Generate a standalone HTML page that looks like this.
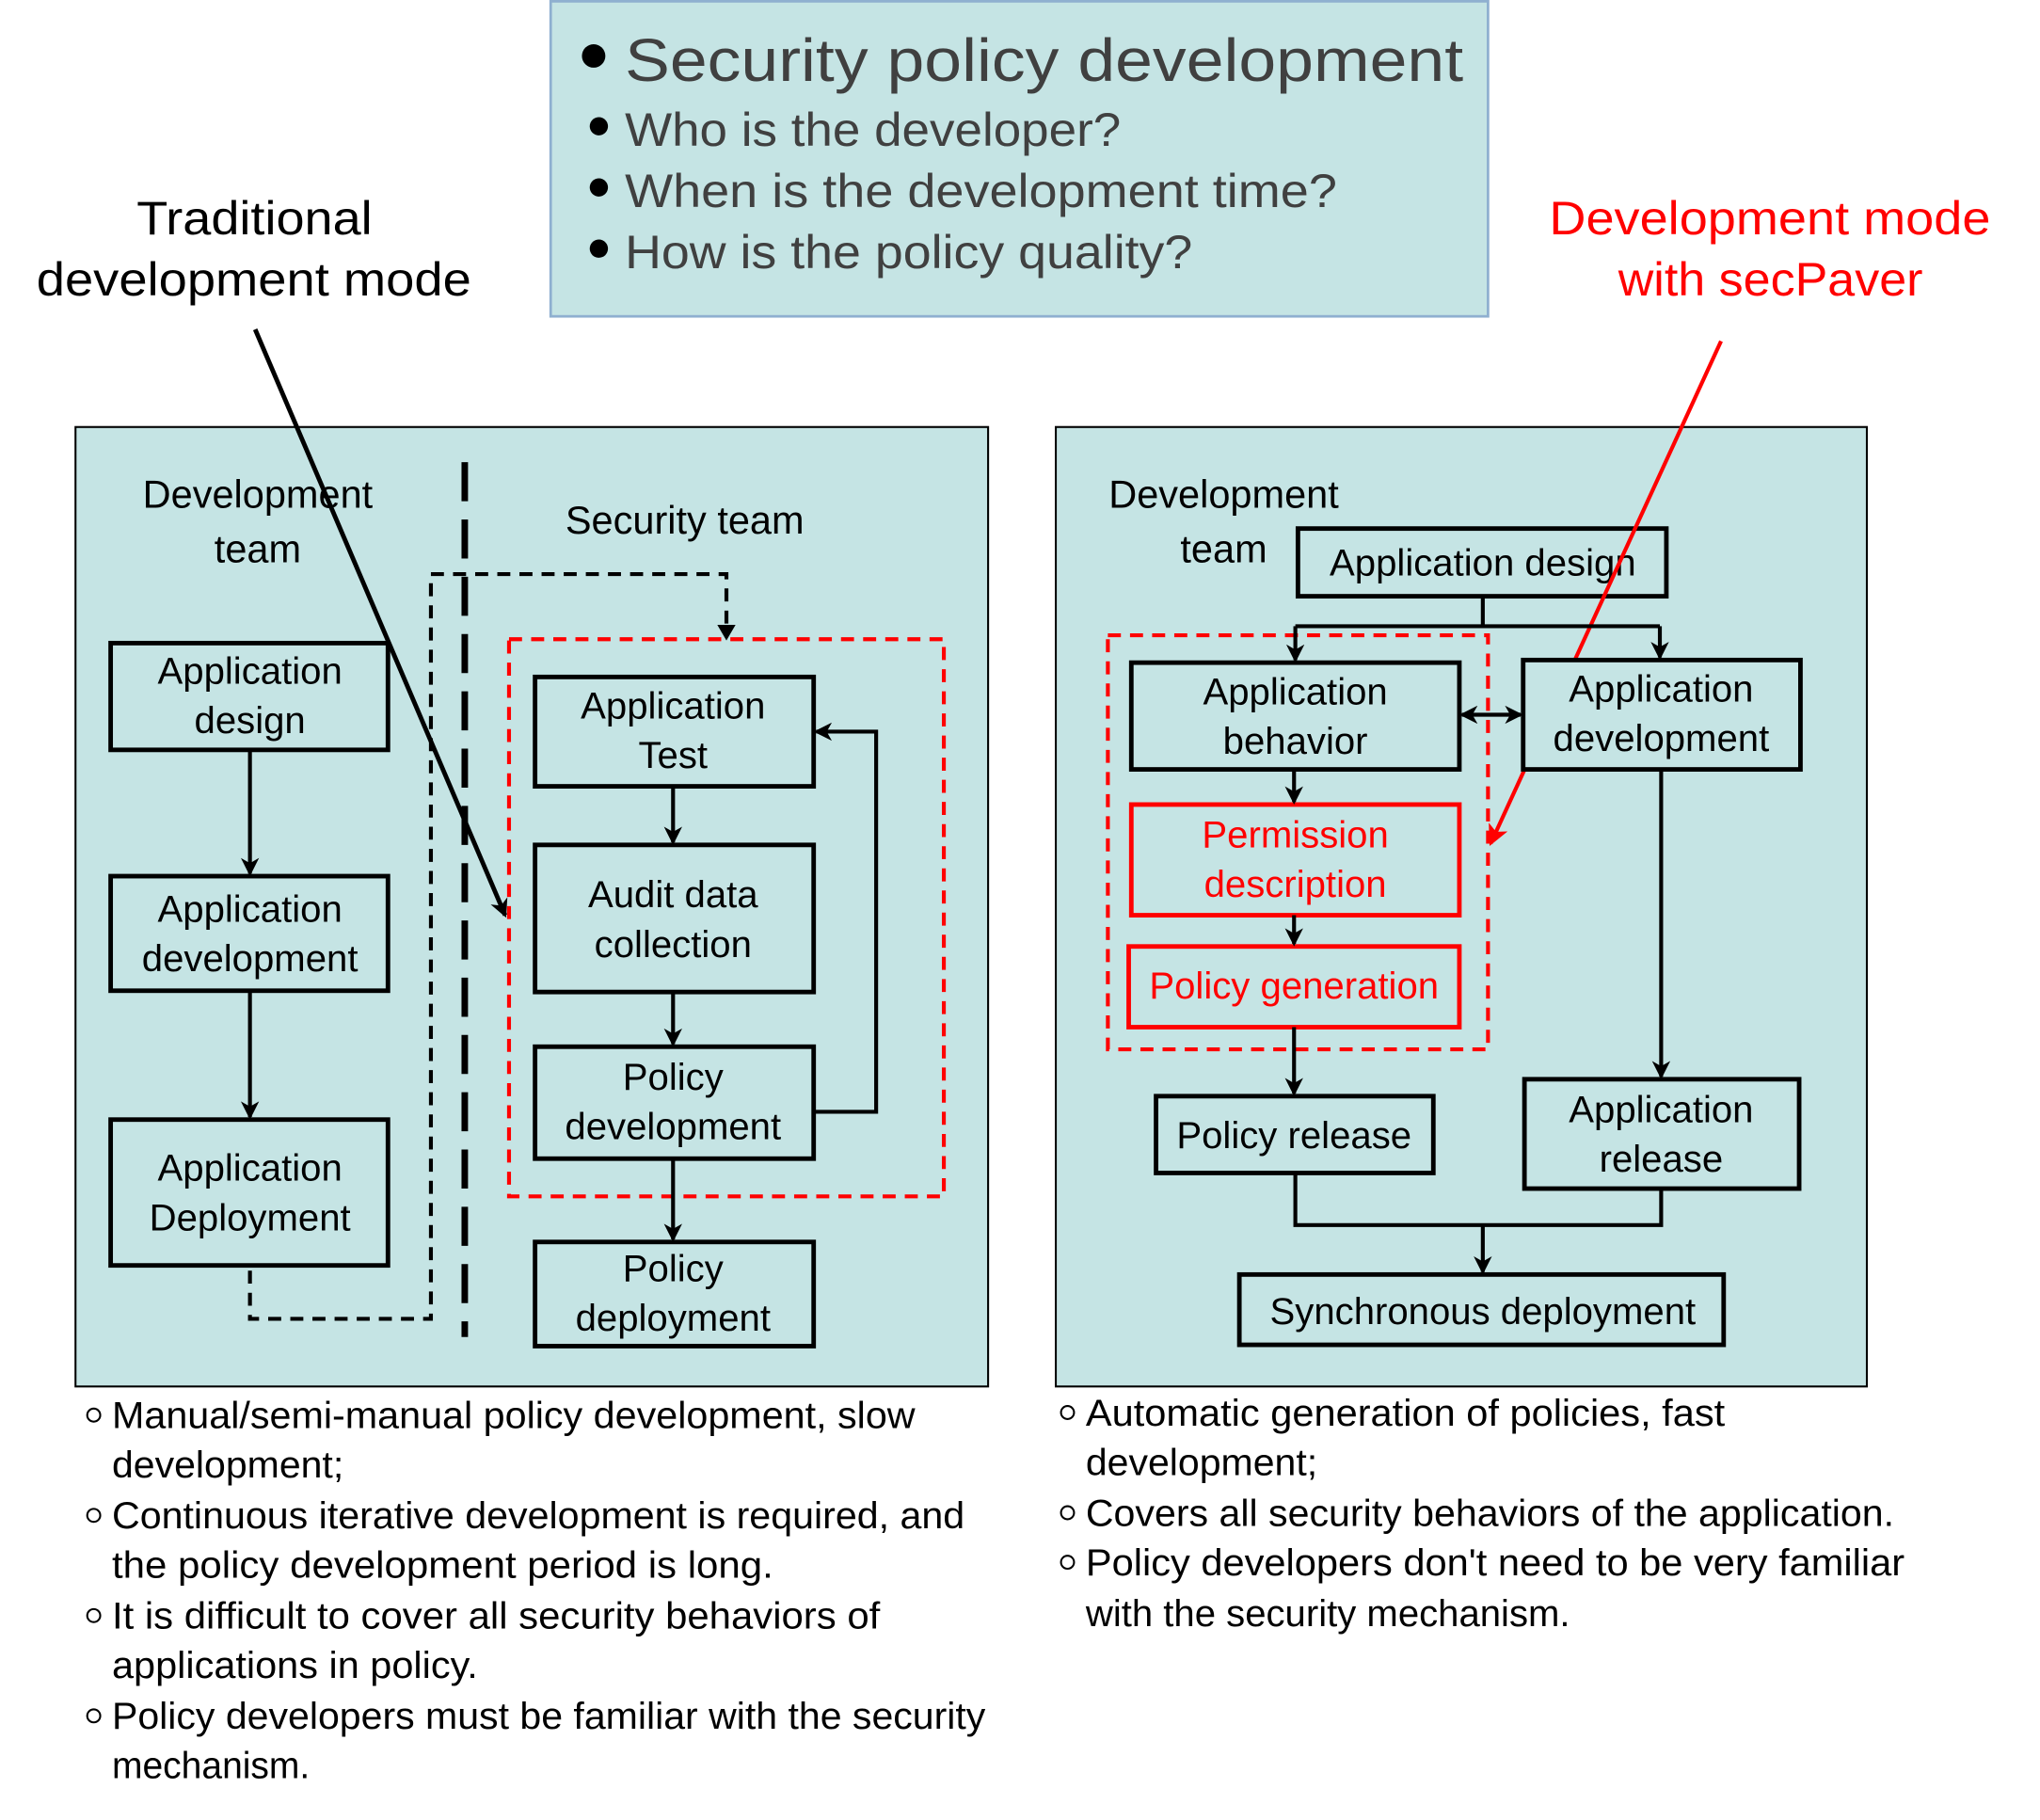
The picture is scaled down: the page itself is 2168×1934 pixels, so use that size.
<!DOCTYPE html>
<html><head><meta charset="utf-8"><style>
html,body{margin:0;padding:0;background:#fff}
svg{display:block}
text{font-family:"Liberation Sans",sans-serif}
</style></head><body>
<svg width="2168" height="1934" viewBox="0 0 1567 1398" preserveAspectRatio="none" xmlns="http://www.w3.org/2000/svg">
<defs>
<marker id="a" markerWidth="14" markerHeight="14" refX="12" refY="7" orient="auto" markerUnits="userSpaceOnUse"><path d="M0,0 L14,7 L0,14 L4,7 Z" fill="#000"/></marker>
<marker id="ar" markerWidth="16" markerHeight="16" refX="14" refY="8" orient="auto" markerUnits="userSpaceOnUse"><path d="M0,0 L16,8 L0,16 L4,8 Z" fill="#f00"/></marker>
<marker id="as" markerWidth="14" markerHeight="14" refX="2" refY="7" orient="auto" markerUnits="userSpaceOnUse"><path d="M14,0 L0,7 L14,14 L10,7 Z" fill="#000"/></marker>
</defs>
<rect x="423" y="1" width="720" height="242" fill="#c5e4e4" stroke="#8fb0d0" stroke-width="2"/>
<g fill="#404040">
<circle cx="456" cy="43" r="9" fill="#000"/>
<text x="480" y="62" font-size="46" textLength="644" lengthAdjust="spacingAndGlyphs">Security policy development</text>
<circle cx="460" cy="97" r="7" fill="#000"/><text x="480" y="112" font-size="36" textLength="381" lengthAdjust="spacingAndGlyphs">Who is the developer?</text>
<circle cx="460" cy="144" r="7" fill="#000"/><text x="480" y="159" font-size="36" textLength="547" lengthAdjust="spacingAndGlyphs">When is the development time?</text>
<circle cx="460" cy="191" r="7" fill="#000"/><text x="480" y="206" font-size="36" textLength="436" lengthAdjust="spacingAndGlyphs">How is the policy quality?</text>
</g>
<text x="105" y="180" font-size="36" textLength="181" lengthAdjust="spacingAndGlyphs">Traditional</text>
<text x="28" y="227" font-size="36" textLength="334" lengthAdjust="spacingAndGlyphs">development mode</text>
<text x="1190" y="180" font-size="36" fill="#f00" textLength="339" lengthAdjust="spacingAndGlyphs">Development mode</text>
<text x="1243" y="227" font-size="36" fill="#f00" textLength="234" lengthAdjust="spacingAndGlyphs">with secPaver</text>

<rect x="58" y="328" width="701" height="737" fill="#c5e4e4" stroke="#000" stroke-width="1.5"/>
<rect x="811" y="328" width="623" height="737" fill="#c5e4e4" stroke="#000" stroke-width="1.5"/>

<g font-size="30" text-anchor="middle">
<text x="198" y="390">Development</text><text x="198" y="432">team</text>
<text x="526" y="410">Security team</text>
<text x="940" y="390">Development</text><text x="940" y="432">team</text>
</g>

<line x1="357" y1="355" x2="357" y2="1027" stroke="#000" stroke-width="5" stroke-dasharray="30,14"/>
<path d="M192,976 V1013 H331 V441 H558 V488" fill="none" stroke="#000" stroke-width="3" stroke-dasharray="10,7"/>
<path d="M551,480 L558,492 L565,480 Z" fill="#000"/>
<rect x="391" y="491" width="334" height="428" fill="none" stroke="#f00" stroke-width="3" stroke-dasharray="10,7"/>
<g fill="#c5e4e4" stroke="#000" stroke-width="3.5">
<rect x="85" y="494" width="213" height="82"/>
<rect x="85" y="673" width="213" height="88"/>
<rect x="85" y="860" width="213" height="112"/>
<rect x="411" y="520" width="214" height="84"/>
<rect x="411" y="649" width="214" height="113"/>
<rect x="411" y="804" width="214" height="86"/>
<rect x="411" y="954" width="214" height="80"/>
</g>
<g stroke="#000" stroke-width="3" fill="none" marker-end="url(#a)">
<line x1="192" y1="576" x2="192" y2="671"/>
<line x1="192" y1="761" x2="192" y2="858"/>
<line x1="517" y1="604" x2="517" y2="647"/>
<line x1="517" y1="762" x2="517" y2="802"/>
<line x1="517" y1="890" x2="517" y2="952"/>
<path d="M625,854 H673 V562 H627"/>
</g>
<g font-size="29" text-anchor="middle">
<text x="192" y="525">Application</text><text x="192" y="563">design</text>
<text x="192" y="708">Application</text><text x="192" y="746">development</text>
<text x="192" y="907">Application</text><text x="192" y="945">Deployment</text>
<text x="517" y="552">Application</text><text x="517" y="590">Test</text>
<text x="517" y="697">Audit data</text><text x="517" y="735">collection</text>
<text x="517" y="837">Policy</text><text x="517" y="875">development</text>
<text x="517" y="984">Policy</text><text x="517" y="1022">deployment</text>
</g>
<line x1="196" y1="253" x2="388" y2="703" stroke="#000" stroke-width="3.5" marker-end="url(#a)"/>

<rect x="851" y="488" width="292" height="318" fill="none" stroke="#f00" stroke-width="3" stroke-dasharray="10,7"/>
<g fill="#c5e4e4" stroke="#000" stroke-width="3.5">
<rect x="997" y="406" width="283" height="52"/>
<rect x="869" y="509" width="252" height="82"/>
</g>
<text x="1139" y="442" font-size="29" text-anchor="middle">Application design</text>
<line x1="1322" y1="262" x2="1145" y2="648" stroke="#f00" stroke-width="3" marker-end="url(#ar)"/>
<g fill="#c5e4e4" stroke="#000" stroke-width="3.5">
<rect x="1170" y="507" width="213" height="84"/>
<rect x="888" y="842" width="213" height="59"/>
<rect x="1171" y="829" width="211" height="84"/>
<rect x="952" y="979" width="372" height="54"/>
</g>
<g fill="#c5e4e4" stroke="#f00" stroke-width="3.5">
<rect x="869" y="618" width="252" height="85"/>
<rect x="867" y="727" width="254" height="62"/>
</g>
<g stroke="#000" stroke-width="3" fill="none">
<path d="M1139,458 V481"/><path d="M995,481 H1275"/>
<line x1="995" y1="481" x2="995" y2="507" marker-end="url(#a)"/>
<line x1="1275" y1="481" x2="1275" y2="505" marker-end="url(#a)"/>
<line x1="1123" y1="549" x2="1168" y2="549" marker-end="url(#a)" marker-start="url(#as)"/>
<line x1="994" y1="591" x2="994" y2="616" marker-end="url(#a)"/>
<line x1="994" y1="703" x2="994" y2="725" marker-end="url(#a)"/>
<line x1="994" y1="789" x2="994" y2="840" marker-end="url(#a)"/>
<line x1="1276" y1="591" x2="1276" y2="827" marker-end="url(#a)"/>
<path d="M995,901 V941 H1276 V913"/>
<line x1="1139" y1="941" x2="1139" y2="977" marker-end="url(#a)"/>
</g>
<g font-size="29" text-anchor="middle">
<text x="995" y="541">Application</text><text x="995" y="579">behavior</text>
<text x="1276" y="539">Application</text><text x="1276" y="577">development</text>
<text x="995" y="651" fill="#f00">Permission</text><text x="995" y="689" fill="#f00">description</text>
<text x="994" y="767" fill="#f00">Policy generation</text>
<text x="994" y="882">Policy release</text>
<text x="1276" y="862">Application</text><text x="1276" y="900">release</text>
<text x="1139" y="1017">Synchronous deployment</text>
</g>

<g fill="none" stroke="#000" stroke-width="1.5">
<circle cx="72" cy="1087" r="5"/><circle cx="72" cy="1164" r="5"/><circle cx="72" cy="1241" r="5"/><circle cx="72" cy="1318" r="5"/>
<circle cx="820" cy="1085" r="5"/><circle cx="820" cy="1162" r="5"/><circle cx="820" cy="1200" r="5"/>
</g>
<g font-size="29">
<text x="86" y="1097" textLength="617" lengthAdjust="spacingAndGlyphs">Manual/semi-manual policy development, slow</text>
<text x="86" y="1135" textLength="178" lengthAdjust="spacingAndGlyphs">development;</text>
<text x="86" y="1174" textLength="655" lengthAdjust="spacingAndGlyphs">Continuous iterative development is required, and</text>
<text x="86" y="1212" textLength="508" lengthAdjust="spacingAndGlyphs">the policy development period is long.</text>
<text x="86" y="1251" textLength="590" lengthAdjust="spacingAndGlyphs">It is difficult to cover all security behaviors of</text>
<text x="86" y="1289" textLength="281" lengthAdjust="spacingAndGlyphs">applications in policy.</text>
<text x="86" y="1328" textLength="671" lengthAdjust="spacingAndGlyphs">Policy developers must be familiar with the security</text>
<text x="86" y="1366" textLength="152" lengthAdjust="spacingAndGlyphs">mechanism.</text>
<text x="834" y="1095" textLength="491" lengthAdjust="spacingAndGlyphs">Automatic generation of policies, fast</text>
<text x="834" y="1133" textLength="178" lengthAdjust="spacingAndGlyphs">development;</text>
<text x="834" y="1172" textLength="621" lengthAdjust="spacingAndGlyphs">Covers all security behaviors of the application.</text>
<text x="834" y="1210" textLength="629" lengthAdjust="spacingAndGlyphs">Policy developers don't need to be very familiar</text>
<text x="834" y="1249" textLength="372" lengthAdjust="spacingAndGlyphs">with the security mechanism.</text>
</g>
</svg>
</body></html>
